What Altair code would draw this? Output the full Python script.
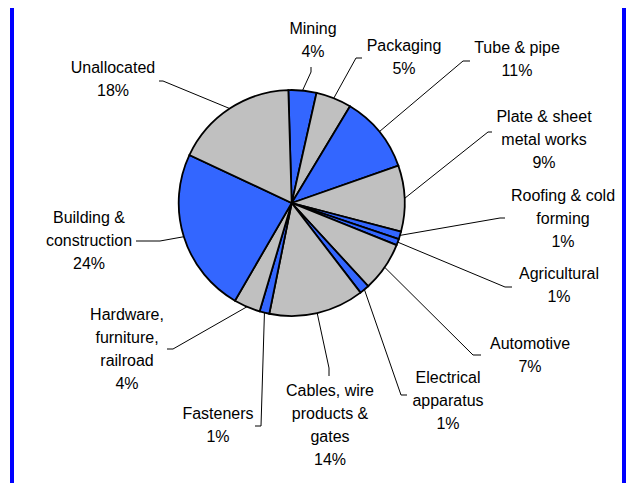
import math
import altair as alt
import pandas as pd

# ---------------- data ----------------
categories = ["Mining", "Packaging", "Tube & pipe", "Plate & sheet metal works",
              "Roofing & cold forming", "Agricultural", "Automotive",
              "Electrical apparatus", "Cables, wire products & gates", "Fasteners",
              "Hardware, furniture, railroad", "Building & construction", "Unallocated"]
shares = [4.0, 5.1, 11.0, 9.45, 1.1, 0.9, 7.1, 1.4, 13.6, 1.4, 3.8, 23.6, 17.55]
colors = ["#3366FF", "#C0C0C0", "#3366FF", "#C0C0C0", "#3366FF", "#3366FF", "#C0C0C0",
          "#3366FF", "#C0C0C0", "#3366FF", "#C0C0C0", "#3366FF", "#C0C0C0"]
label_lines = [["Mining"], ["Packaging"], ["Tube & pipe"], ["Plate & sheet", "metal works"],
               ["Roofing & cold", "forming"], ["Agricultural"], ["Automotive"],
               ["Electrical", "apparatus"], ["Cables, wire", "products &", "gates"],
               ["Fasteners"], ["Hardware,", "furniture,", "railroad"],
               ["Building &", "construction"], ["Unallocated"]]

# ---------------- layout (page pixels) ----------------
PAGE = 8
W, H = 619, 475
CX, CY, R = 291.7 - PAGE, 203 - PAGE, 113
START_DEG = -1.7
label_x = [313, 404, 517, 544, 563, 559, 530, 448, 330, 218, 127, 89, 113]
label_y0 = [29, 46, 48, 117, 196, 274, 344, 378, 391, 414, 315, 218, 68]
LINE_H = 23
elbows = [(311, 72), (356, 58), (463, 61), (488, 132), (500, 218), (505, 287), (473, 355),
          (401, 395), (329, 368), (261, 426), (173, 349), (160, 241), (163, 81)]
ends = [(311, 67), (362, 58), (470, 61), (492, 132), (505, 218), (512, 287), (481, 355),
        (407, 395), (329, 376), (255, 426), (167, 349), (136, 241), (159, 81)]

n = len(categories)
total = sum(shares)
a0 = math.radians(START_DEG)

pie_df = pd.DataFrame({"cat": categories, "share": shares, "color": colors, "idx": list(range(n))})

pie = alt.Chart(pie_df).mark_arc(outerRadius=R, stroke="black", strokeWidth=1.8).encode(
    theta=alt.Theta("share:Q", stack=True, scale=alt.Scale(range=[a0, a0 + 2 * math.pi])),
    order=alt.Order("idx:Q"),
    color=alt.Color("color:N", scale=None),
    x=alt.value(CX),
    y=alt.value(CY),
)

# leader lines
rows = []
cum = 0.0
for i, (c, s) in enumerate(zip(categories, shares)):
    mid = START_DEG + (cum + s / 2) / total * 360
    cum += s
    px = CX + R * math.sin(math.radians(mid))
    py = CY - R * math.cos(math.radians(mid))
    rows.append({"cat": c, "k": 0, "x": px, "y": py})
    rows.append({"cat": c, "k": 1, "x": elbows[i][0] - PAGE, "y": elbows[i][1] - PAGE})
    rows.append({"cat": c, "k": 2, "x": ends[i][0] - PAGE, "y": ends[i][1] - PAGE})
lead_df = pd.DataFrame(rows)

leaders = alt.Chart(lead_df).mark_line(stroke="black", strokeWidth=1).encode(
    x=alt.X("x:Q", scale=None, axis=None),
    y=alt.Y("y:Q", scale=None, axis=None),
    detail="cat:N",
    order="k:Q",
)

# labels
trows = []
for i, (lines, s) in enumerate(zip(label_lines, shares)):
    allines = lines + [f"{int(s + 0.5)}%"]
    for j, t in enumerate(allines):
        trows.append({"t": t, "x": label_x[i] - PAGE, "y": label_y0[i] + j * LINE_H - PAGE})
text_df = pd.DataFrame(trows)

labels = alt.Chart(text_df).mark_text(font="Liberation Sans", fontSize=16, align="center",
                                      baseline="middle", color="black").encode(
    x=alt.X("x:Q", scale=None, axis=None),
    y=alt.Y("y:Q", scale=None, axis=None),
    text="t:N",
)

# blue frame sides
border_df = pd.DataFrame({"x": [12 - PAGE, 624 - PAGE]})
border = alt.Chart(border_df).mark_rule(color="#0000FF", strokeWidth=4).encode(
    x=alt.X("x:Q", scale=None, axis=None),
    y=alt.value(0),
    y2=alt.value(H),
)

chart = alt.layer(border, leaders, pie, labels).properties(
    width=W, height=H, autosize="none", padding=0, background="white"
).configure_view(stroke=None)

chart.save("out.html", embed_options={"renderer": "svg", "actions": False})
